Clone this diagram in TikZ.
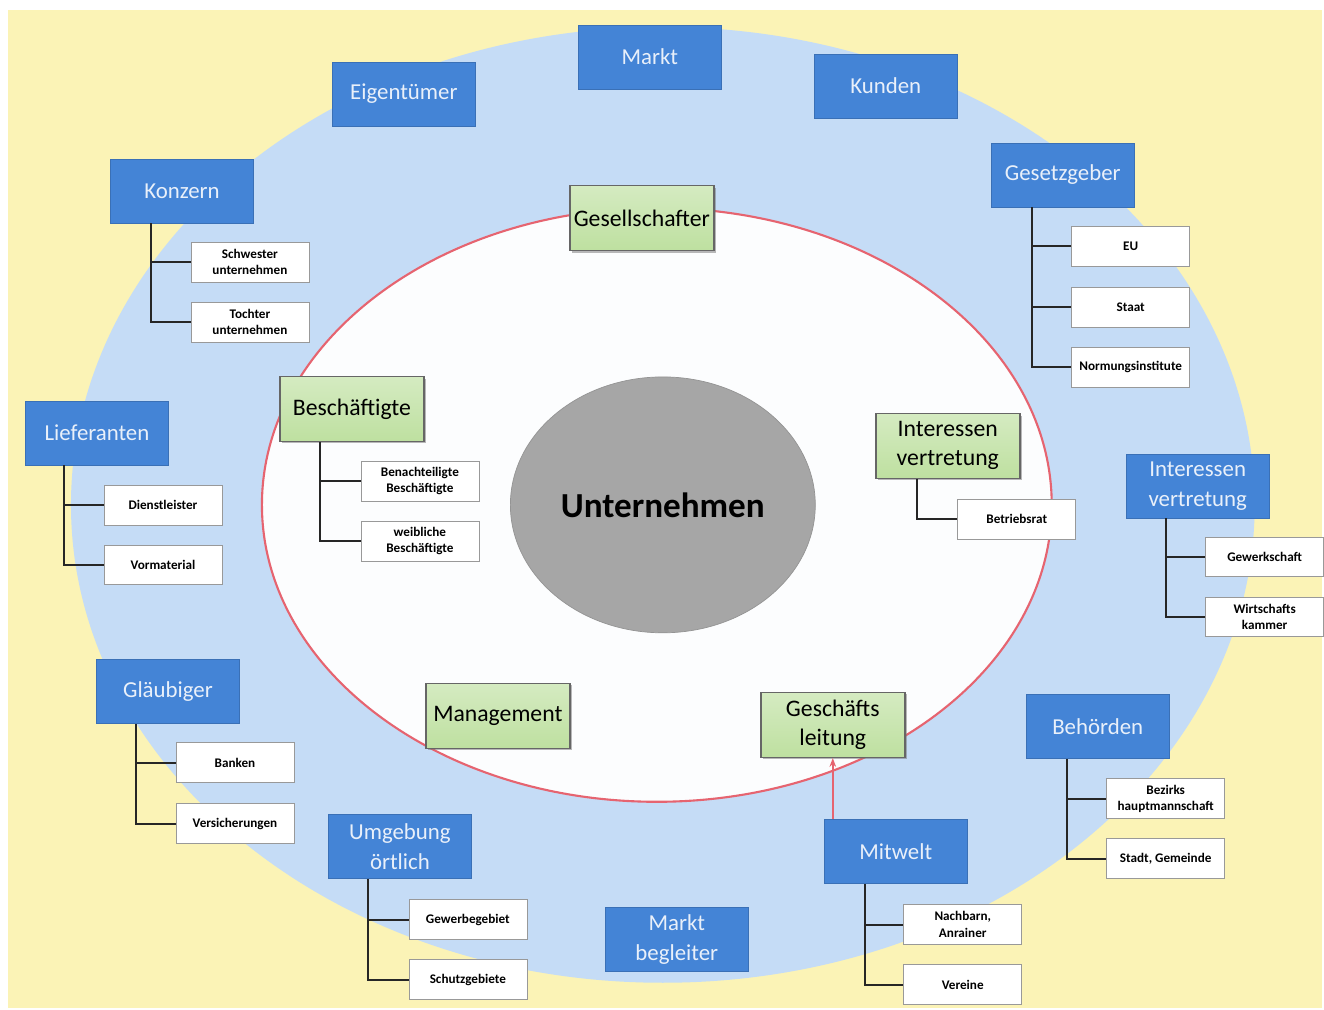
\documentclass[tikz,border=0pt]{standalone}
\usepackage{fontspec}
\setmainfont{Carlito}
\usetikzlibrary{arrows.meta,shapes.geometric,shadows}
\definecolor{paleyellow}{RGB}{251,243,182}
\definecolor{ringblue}{RGB}{197,220,246}
\definecolor{boxblue}{RGB}{68,132,214}
\definecolor{boxgreen}{RGB}{190,224,160}
\definecolor{redline}{RGB}{230,100,112}
\begin{document}
\begin{tikzpicture}[x=0.02cm,y=-0.02cm,
    outer/.style={draw=boxblue!85!black,fill=boxblue,text=white!88!boxblue,minimum width=2.86cm,minimum height=1.28cm,
        font=\fontsize{13}{17}\selectfont,align=center,inner sep=2pt},
    inner/.style={draw=black!60,line width=0.9pt,top color=boxgreen!65,bottom color=boxgreen,
        drop shadow={shadow xshift=1.2pt,shadow yshift=-1.2pt,fill=black!55},
        minimum width=2.88cm,minimum height=1.3cm,font=\fontsize{13.5}{16.5}\selectfont,align=center,inner sep=2pt},
    leaf/.style={draw=black!40,fill=white,minimum width=2.36cm,minimum height=0.8cm,
        font=\fontsize{7.5}{9.5}\selectfont\bfseries,align=center,inner sep=1pt},
    link/.style={line width=1.1pt,black!85}]
    % background and rings
    \fill[white] (0,0) rectangle (1324,1010);
    \fill[paleyellow] (8,10) rectangle (1322,1008);
    \fill[ringblue] (663,505) ellipse [x radius=592,y radius=478];
    \draw[redline,line width=1.2pt,fill=white!94!ringblue] (657,505) ellipse [x radius=395,y radius=297];
    \node[ellipse,draw=black!42,fill=black!35,minimum width=6cm,minimum height=5.12cm,
        font=\bfseries\fontsize{20}{24}\selectfont] (firma) at (663,505) {Unternehmen};
    % outer stakeholders
    \node[outer] (markt) at (650,57) {Markt};
    \node[outer] (eigner) at (404,94) {Eigentümer};
    \node[outer] (kunden) at (886,86) {Kunden};
    \node[outer] (konzern) at (182,191) {Konzern};
    \node[outer] (gesetz) at (1063,175) {Gesetzgeber};
    \node[outer] (liefer) at (97,433) {Lieferanten};
    \node[outer] (ivaussen) at (1198,486) {Interessen\\vertretung};
    \node[outer] (glaeub) at (168,692) {Gläubiger};
    \node[outer] (behoerd) at (1098,727) {Behörden};
    \node[outer] (umgeb) at (400,847) {Umgebung\\örtlich};
    \node[outer] (mitwelt) at (896,852) {Mitwelt};
    \node[outer] (begleit) at (677,940) {Markt\\begleiter};
    % inner stakeholders
    \node[inner] (gesell) at (642,218) {Gesellschafter};
    \node[inner] (besch) at (352,409) {Beschäftigte};
    \node[inner] (ivinnen) at (948,446) {Interessen\\vertretung};
    \node[inner] (mgmt) at (498,716) {Management};
    \node[inner] (gl) at (833,725) {Geschäfts\\leitung};
    % sub groups
    \node[leaf] (schwester) at (250,262) {Schwester\\unternehmen};
    \node[leaf] (tochter) at (250,322) {Tochter\\unternehmen};
    \node[leaf] (eu) at (1131,246) {EU};
    \node[leaf] (staat) at (1131,307) {Staat};
    \node[leaf] (norm) at (1131,367) {Normungsinstitute};
    \node[leaf] (benach) at (420,481) {Benachteiligte\\Beschäftigte};
    \node[leaf] (weibl) at (420,541) {weibliche\\Beschäftigte};
    \node[leaf] (brat) at (1017,519) {Betriebsrat};
    \node[leaf] (dienst) at (163,505) {Dienstleister};
    \node[leaf] (vormat) at (163,565) {Vormaterial};
    \node[leaf] (gewerk) at (1265,557) {Gewerkschaft};
    \node[leaf] (wkammer) at (1265,617) {Wirtschafts\\kammer};
    \node[leaf] (banken) at (235,763) {Banken};
    \node[leaf] (versich) at (235,824) {Versicherungen};
    \node[leaf] (bezirk) at (1166,799) {Bezirks\\hauptmannschaft};
    \node[leaf] (stadt) at (1166,859) {Stadt, Gemeinde};
    \node[leaf] (gewerbe) at (468,920) {Gewerbegebiet};
    \node[leaf] (schutz) at (468,980) {Schutzgebiete};
    \node[leaf] (nachbarn) at (963,925) {Nachbarn,\\Anrainer};
    \node[leaf] (vereine) at (963,985) {Vereine};
    % tree links
    \draw[link] ([xshift=0.82cm]konzern.south west) |- (schwester.west);
    \draw[link] ([xshift=0.82cm]konzern.south west) |- (tochter.west);
    \draw[link] ([xshift=0.82cm]gesetz.south west) |- (eu.west);
    \draw[link] ([xshift=0.82cm]gesetz.south west) |- (staat.west);
    \draw[link] ([xshift=0.82cm]gesetz.south west) |- (norm.west);
    \draw[link] ([xshift=0.82cm]besch.south west) |- (benach.west);
    \draw[link] ([xshift=0.82cm]besch.south west) |- (weibl.west);
    \draw[link] ([xshift=0.84cm]ivinnen.south west) |- (brat.west);
    \draw[link] ([xshift=0.78cm]liefer.south west) |- (dienst.west);
    \draw[link] ([xshift=0.78cm]liefer.south west) |- (vormat.west);
    \draw[link] ([xshift=0.8cm]ivaussen.south west) |- (gewerk.west);
    \draw[link] ([xshift=0.8cm]ivaussen.south west) |- (wkammer.west);
    \draw[link] ([xshift=0.8cm]glaeub.south west) |- (banken.west);
    \draw[link] ([xshift=0.8cm]glaeub.south west) |- (versich.west);
    \draw[link] ([xshift=0.82cm]behoerd.south west) |- (bezirk.west);
    \draw[link] ([xshift=0.82cm]behoerd.south west) |- (stadt.west);
    \draw[link] ([xshift=0.8cm]umgeb.south west) |- (gewerbe.west);
    \draw[link] ([xshift=0.8cm]umgeb.south west) |- (schutz.west);
    \draw[link] ([xshift=0.82cm]mitwelt.south west) |- (nachbarn.west);
    \draw[link] ([xshift=0.82cm]mitwelt.south west) |- (vereine.west);
    % influence arrow
    \draw[redline,line width=1.2pt,-{Stealth[length=5pt]}] (gl.south |- mitwelt.north) -- (gl.south);
\end{tikzpicture}
\end{document}
